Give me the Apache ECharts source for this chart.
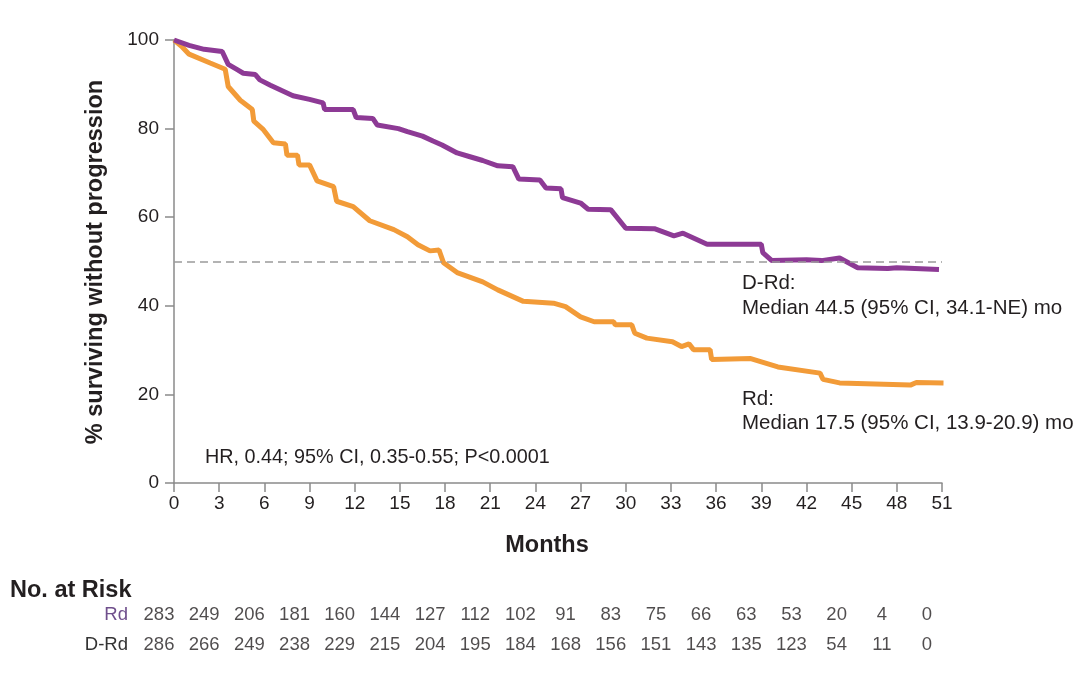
<!DOCTYPE html>
<html>
<head>
<meta charset="utf-8">
<script src="https://cdn.jsdelivr.net/npm/echarts@6/dist/echarts.min.js"></script>
<style>html,body{margin:0;padding:0;background:#fff}#c{width:1080px;height:673px}</style>
</head>
<body>
<div id="c"></div>
<script>
// ---- data ----
var monthTicks = [0,3,6,9,12,15,18,21,24,27,30,33,36,39,42,45,48,51];
var riskRows = ['Rd','D-Rd'];
var rdAtRisk  = [283,249,206,181,160,144,127,112,102,91,83,75,66,63,53,20,4,0];
var drdAtRisk = [286,266,249,238,229,215,204,195,184,168,156,151,143,135,123,54,11,0];

var drdCurve = [[0,100],[1,98.8],[2,97.9],[3.2,97.4],[3.6,94.5],[4.2,93.3],[4.6,92.5],[5.4,92.2],[5.7,91],[6.4,89.8],[7.9,87.4],[9,86.6],[9.9,85.8],[10,84.3],[11.9,84.3],[12.1,82.5],[13.2,82.3],[13.5,80.8],[14.9,80],[15.5,79.3],[16.5,78.3],[17.2,77.2],[17.8,76.3],[18.8,74.5],[19.6,73.7],[20.5,72.8],[21.5,71.6],[22.5,71.4],[22.9,68.6],[24.3,68.4],[24.7,66.6],[25.7,66.4],[25.8,64.4],[27,63.2],[27.5,61.8],[29,61.7],[30,57.5],[31.9,57.4],[33.2,55.8],[33.8,56.4],[35.4,53.9],[39,53.9],[39.1,52],[39.7,50.2],[42,50.4],[43,50.2],[44.2,50.8],[45.4,48.6],[47.4,48.4],[48,48.6],[50.8,48.2]];

var rdCurve = [[0,100],[0.5,98.6],[1,96.8],[2.4,94.8],[3.4,93.4],[3.6,89.5],[4.4,86.4],[5.2,84.3],[5.3,81.7],[5.9,79.9],[6.6,76.8],[7.4,76.5],[7.5,74],[8.2,74],[8.3,71.8],[9,71.8],[9.5,68.2],[10.6,66.9],[10.8,63.6],[11.9,62.4],[13,59.2],[14.6,57.2],[15.5,55.6],[16.2,53.8],[17,52.4],[17.6,52.6],[17.9,49.7],[18.8,47.5],[20.5,45.4],[21.5,43.6],[23.2,41],[25.2,40.6],[26,39.8],[27,37.5],[27.9,36.4],[29.2,36.4],[29.3,35.7],[30.4,35.7],[30.6,33.8],[31.4,32.7],[33.1,31.9],[33.7,30.8],[34.2,31.4],[34.5,30.1],[35.6,30.1],[35.7,27.9],[38.3,28.1],[40.1,26.2],[42.9,24.8],[43.1,23.4],[44.2,22.6],[48.9,22.1],[49.3,22.7],[51.1,22.6]];

var medianLine = 50;

// ---- build ----
var FONT = '"Liberation Sans", Arial, sans-serif';
var TXT = '#231f20';
var AX = '#8a8a8a';
var PURPLE = '#8d3a95';
var ORANGE = '#f29b38';

var riskData = [];
monthTicks.forEach(function(m, i){
  riskData.push([m, 'Rd', rdAtRisk[i]]);
  riskData.push([m, 'D-Rd', drdAtRisk[i]]);
});

var chart = echarts.init(document.getElementById('c'), null, {renderer:'canvas'});
chart.setOption({
  backgroundColor:'#fff',
  animation:false,
  textStyle:{fontFamily:FONT},
  grid:[
    {left:174, top:40, width:768, height:443},
    {left:159, top:600, width:768, height:60}
  ],
  xAxis:[
    {gridIndex:0, type:'value', min:0, max:51, interval:3,
     axisLine:{show:true, lineStyle:{color:AX, width:1.5}},
     axisTick:{show:true, length:9, lineStyle:{color:AX, width:1.5}},
     axisLabel:{color:TXT, fontSize:19, margin:11, fontFamily:FONT},
     splitLine:{show:false}},
    {gridIndex:1, type:'value', min:0, max:51, show:false}
  ],
  yAxis:[
    {gridIndex:0, type:'value', min:0, max:100, interval:20,
     axisLine:{show:true, lineStyle:{color:AX, width:1.5}},
     axisTick:{show:true, length:9, lineStyle:{color:AX, width:1.5}},
     axisLabel:{color:TXT, fontSize:19, margin:15, fontFamily:FONT},
     splitLine:{show:false}},
    {gridIndex:1, type:'category', data:riskRows, inverse:true,
     axisLine:{show:false}, axisTick:{show:false}, splitLine:{show:false},
     axisLabel:{fontSize:18.5, margin:31, fontFamily:FONT,
       color:function(v){ return v === 'Rd' ? '#6f4f8c' : '#333333'; }}}
  ],
  series:[
    {type:'line', name:'Rd', data:rdCurve, xAxisIndex:0, yAxisIndex:0,
     showSymbol:false, clip:false, lineStyle:{color:ORANGE, width:5}, itemStyle:{color:ORANGE},
     markLine:{silent:true, symbol:'none', label:{show:false},
       lineStyle:{color:'#9a9a9a', type:[8,5], width:1.5},
       data:[{yAxis:medianLine}]}},
    {type:'line', name:'D-Rd', data:drdCurve, xAxisIndex:0, yAxisIndex:0,
     showSymbol:false, clip:false, lineStyle:{color:PURPLE, width:5}, itemStyle:{color:PURPLE}},
    {type:'scatter', data:riskData, xAxisIndex:1, yAxisIndex:1, symbolSize:0,
     label:{show:true, position:'inside', color:TXT, fontSize:18.5, fontFamily:FONT,
       formatter:function(p){ return String(p.value[2]); }}}
  ],
  graphic:[
    {type:'text', left:742, top:273, style:{text:'D-Rd:', fill:TXT, font:'20.5px '+FONT}},
    {type:'text', left:742, top:298, style:{text:'Median 44.5 (95% CI, 34.1-NE) mo', fill:TXT, font:'20.5px '+FONT}},
    {type:'text', left:742, top:389, style:{text:'Rd:', fill:TXT, font:'20.5px '+FONT}},
    {type:'text', left:742, top:413, style:{text:'Median 17.5 (95% CI, 13.9-20.9) mo', fill:TXT, font:'20.5px '+FONT}},
    {type:'text', left:205, top:448, style:{text:'HR, 0.44; 95% CI, 0.35-0.55; P<0.0001', fill:TXT, font:'19.8px '+FONT}},
    {type:'text', x:547, y:546, style:{text:'Months', fill:TXT, font:'bold 23.5px '+FONT, textAlign:'center', textVerticalAlign:'middle'}},
    {type:'text', x:96, y:262, rotation:Math.PI/2, style:{text:'% surviving without progression', fill:TXT, font:'bold 23.5px '+FONT, textAlign:'center', textVerticalAlign:'middle'}},
    {type:'text', left:10, top:579, style:{text:'No. at Risk', fill:TXT, font:'bold 23.5px '+FONT}}
  ]
});
</script>
</body>
</html>
